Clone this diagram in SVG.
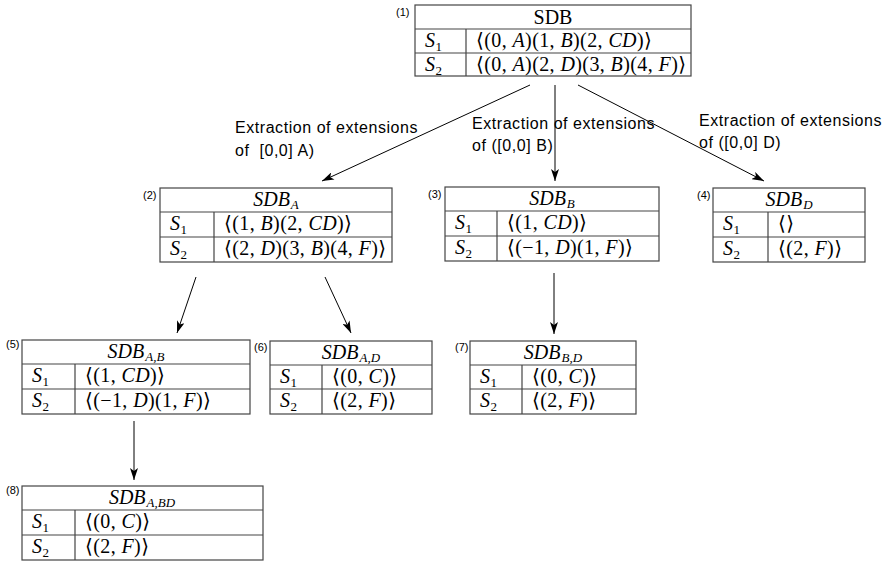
<svg xmlns="http://www.w3.org/2000/svg" width="889" height="561" viewBox="0 0 889 561">
<style>
.box{fill:#fff;stroke:#444;stroke-width:1.2}
.ln{stroke:#444;stroke-width:1.2}
.m{font-family:"Liberation Serif","DejaVu Serif",serif;font-size:20px;letter-spacing:0.4px;fill:#000}
.h{font-family:"Liberation Serif","DejaVu Serif",serif;font-size:20px;fill:#000;text-anchor:middle}
.i{font-style:italic}
.sub{font-size:13px;font-style:normal}
.subi{font-size:13px;font-style:italic}
.n{font-family:"Liberation Sans",Arial,sans-serif;font-size:11px;fill:#000}
.lab{font-family:"Liberation Sans",Arial,sans-serif;font-size:16px;letter-spacing:0.55px;fill:#000}
.ar{stroke:#000;stroke-width:1;fill:none;marker-end:url(#ah)}
</style>
<defs>
<marker id="ah" viewBox="0 0 12 8" refX="12" refY="4" markerWidth="12" markerHeight="8" markerUnits="userSpaceOnUse" orient="auto">
<path d="M0,0 L12,4 L0,8 L3,4 Z" fill="#000"/>
</marker>
</defs>
<rect width="889" height="561" fill="#fff"/>

<g id="connectors">
<line class="ar" x1="530" y1="85" x2="322" y2="181"/>
<line class="ar" x1="555" y1="85" x2="555" y2="181"/>
<line class="ar" x1="578" y1="85" x2="764" y2="181"/>
<line class="ar" x1="196" y1="277" x2="177" y2="333"/>
<line class="ar" x1="325" y1="277" x2="351" y2="333"/>
<line class="ar" x1="554" y1="273" x2="554" y2="334"/>
<line class="ar" x1="134" y1="421" x2="134" y2="480"/>
</g>

<g id="labels">
<text class="lab" x="235" y="133">Extraction of extensions</text>
<text class="lab" x="235" y="156">of &#160;[0,0] A)</text>
<text class="lab" x="472" y="129">Extraction of extensions</text>
<text class="lab" x="472" y="151">of ([0,0] B)</text>
<text class="lab" x="699" y="126">Extraction of extensions</text>
<text class="lab" x="699" y="148">of ([0,0] D)</text>
</g>

<g id="node1">
<text class="n" x="396" y="16">(1)</text>
<rect class="box" x="415" y="5" width="276" height="71"/>
<line class="ln" x1="415" y1="29" x2="691" y2="29"/>
<line class="ln" x1="415" y1="53" x2="691" y2="53"/>
<line class="ln" x1="466" y1="29" x2="466" y2="76"/>
<text class="h" x="553" y="24">SDB</text>
<text class="m" x="425" y="47"><tspan class="i">S</tspan><tspan class="sub" dy="4">1</tspan></text>
<text class="m" x="425" y="71"><tspan class="i">S</tspan><tspan class="sub" dy="4">2</tspan></text>
<text class="m" x="476" y="47">⟨(0, <tspan class="i">A</tspan>)(1, <tspan class="i">B</tspan>)(2, <tspan class="i">CD</tspan>)⟩</text>
<text class="m" x="476" y="71">⟨(0, <tspan class="i">A</tspan>)(2, <tspan class="i">D</tspan>)(3, <tspan class="i">B</tspan>)(4, <tspan class="i">F</tspan>)⟩</text>
</g>

<g id="node2">
<text class="n" x="143" y="199">(2)</text>
<rect class="box" x="160" y="188" width="232" height="74"/>
<line class="ln" x1="160" y1="212" x2="392" y2="212"/>
<line class="ln" x1="160" y1="237" x2="392" y2="237"/>
<line class="ln" x1="214" y1="212" x2="214" y2="262"/>
<text class="h" x="276" y="206"><tspan class="i">SDB</tspan><tspan class="subi" dx="1" dy="3">A</tspan></text>
<text class="m" x="170" y="230"><tspan class="i">S</tspan><tspan class="sub" dy="4">1</tspan></text>
<text class="m" x="170" y="255"><tspan class="i">S</tspan><tspan class="sub" dy="4">2</tspan></text>
<text class="m" x="224" y="230">⟨(1, <tspan class="i">B</tspan>)(2, <tspan class="i">CD</tspan>)⟩</text>
<text class="m" x="224" y="255">⟨(2, <tspan class="i">D</tspan>)(3, <tspan class="i">B</tspan>)(4, <tspan class="i">F</tspan>)⟩</text>
</g>

<g id="node3">
<text class="n" x="428" y="198">(3)</text>
<rect class="box" x="445" y="187" width="214" height="74"/>
<line class="ln" x1="445" y1="211" x2="659" y2="211"/>
<line class="ln" x1="445" y1="236" x2="659" y2="236"/>
<line class="ln" x1="497" y1="211" x2="497" y2="261"/>
<text class="h" x="552" y="205"><tspan class="i">SDB</tspan><tspan class="subi" dx="1" dy="3">B</tspan></text>
<text class="m" x="455" y="229"><tspan class="i">S</tspan><tspan class="sub" dy="4">1</tspan></text>
<text class="m" x="455" y="254"><tspan class="i">S</tspan><tspan class="sub" dy="4">2</tspan></text>
<text class="m" x="507" y="229">⟨(1, <tspan class="i">CD</tspan>)⟩</text>
<text class="m" x="507" y="254">⟨(−1, <tspan class="i">D</tspan>)(1, <tspan class="i">F</tspan>)⟩</text>
</g>

<g id="node4">
<text class="n" x="697" y="199">(4)</text>
<rect class="box" x="713" y="188" width="152" height="74"/>
<line class="ln" x1="713" y1="212" x2="865" y2="212"/>
<line class="ln" x1="713" y1="237" x2="865" y2="237"/>
<line class="ln" x1="768" y1="212" x2="768" y2="262"/>
<text class="h" x="789" y="206"><tspan class="i">SDB</tspan><tspan class="subi" dx="1" dy="3">D</tspan></text>
<text class="m" x="723" y="230"><tspan class="i">S</tspan><tspan class="sub" dy="4">1</tspan></text>
<text class="m" x="723" y="255"><tspan class="i">S</tspan><tspan class="sub" dy="4">2</tspan></text>
<text class="m" x="778" y="230">⟨⟩</text>
<text class="m" x="778" y="255">⟨(2, <tspan class="i">F</tspan>)⟩</text>
</g>

<g id="node5">
<text class="n" x="6" y="348">(5)</text>
<rect class="box" x="22" y="340" width="228" height="74"/>
<line class="ln" x1="22" y1="364" x2="250" y2="364"/>
<line class="ln" x1="22" y1="389" x2="250" y2="389"/>
<line class="ln" x1="75" y1="364" x2="75" y2="414"/>
<text class="h" x="136" y="358"><tspan class="i">SDB</tspan><tspan class="subi" dx="1" dy="3">A,B</tspan></text>
<text class="m" x="32" y="382"><tspan class="i">S</tspan><tspan class="sub" dy="4">1</tspan></text>
<text class="m" x="32" y="407"><tspan class="i">S</tspan><tspan class="sub" dy="4">2</tspan></text>
<text class="m" x="85" y="382">⟨(1, <tspan class="i">CD</tspan>)⟩</text>
<text class="m" x="85" y="407">⟨(−1, <tspan class="i">D</tspan>)(1, <tspan class="i">F</tspan>)⟩</text>
</g>

<g id="node6">
<text class="n" x="254" y="351">(6)</text>
<rect class="box" x="270" y="341" width="162" height="73"/>
<line class="ln" x1="270" y1="365" x2="432" y2="365"/>
<line class="ln" x1="270" y1="389" x2="432" y2="389"/>
<line class="ln" x1="322" y1="365" x2="322" y2="414"/>
<text class="h" x="351" y="359"><tspan class="i">SDB</tspan><tspan class="subi" dx="1" dy="3">A,D</tspan></text>
<text class="m" x="280" y="383"><tspan class="i">S</tspan><tspan class="sub" dy="4">1</tspan></text>
<text class="m" x="280" y="407"><tspan class="i">S</tspan><tspan class="sub" dy="4">2</tspan></text>
<text class="m" x="332" y="383">⟨(0, <tspan class="i">C</tspan>)⟩</text>
<text class="m" x="332" y="407">⟨(2, <tspan class="i">F</tspan>)⟩</text>
</g>

<g id="node7">
<text class="n" x="455" y="351">(7)</text>
<rect class="box" x="470" y="341" width="166" height="73"/>
<line class="ln" x1="470" y1="365" x2="636" y2="365"/>
<line class="ln" x1="470" y1="389" x2="636" y2="389"/>
<line class="ln" x1="522" y1="365" x2="522" y2="414"/>
<text class="h" x="553" y="359"><tspan class="i">SDB</tspan><tspan class="subi" dx="1" dy="3">B,D</tspan></text>
<text class="m" x="480" y="383"><tspan class="i">S</tspan><tspan class="sub" dy="4">1</tspan></text>
<text class="m" x="480" y="407"><tspan class="i">S</tspan><tspan class="sub" dy="4">2</tspan></text>
<text class="m" x="532" y="383">⟨(0, <tspan class="i">C</tspan>)⟩</text>
<text class="m" x="532" y="407">⟨(2, <tspan class="i">F</tspan>)⟩</text>
</g>

<g id="node8">
<text class="n" x="6" y="494">(8)</text>
<rect class="box" x="22" y="486" width="241" height="74"/>
<line class="ln" x1="22" y1="510" x2="263" y2="510"/>
<line class="ln" x1="22" y1="535" x2="263" y2="535"/>
<line class="ln" x1="75" y1="510" x2="75" y2="560"/>
<text class="h" x="142" y="504"><tspan class="i">SDB</tspan><tspan class="subi" dx="1" dy="3">A,BD</tspan></text>
<text class="m" x="32" y="528"><tspan class="i">S</tspan><tspan class="sub" dy="4">1</tspan></text>
<text class="m" x="32" y="553"><tspan class="i">S</tspan><tspan class="sub" dy="4">2</tspan></text>
<text class="m" x="85" y="528">⟨(0, <tspan class="i">C</tspan>)⟩</text>
<text class="m" x="85" y="553">⟨(2, <tspan class="i">F</tspan>)⟩</text>
</g>
</svg>
